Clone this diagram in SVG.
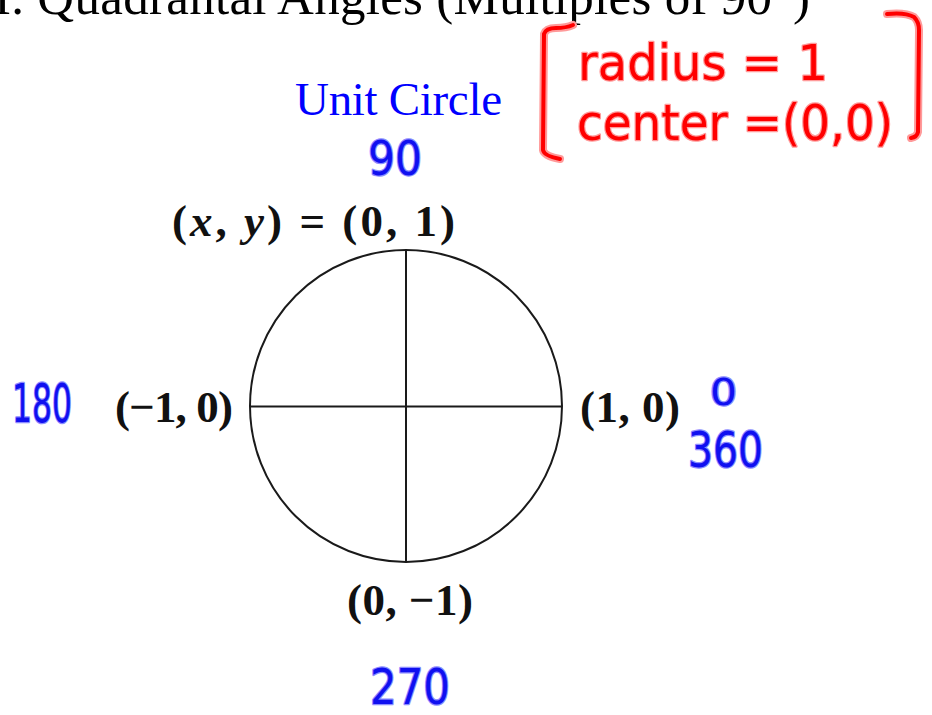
<svg xmlns="http://www.w3.org/2000/svg" width="932" height="715" viewBox="0 0 932 715">
  <style>
    .title { font-family: "Liberation Serif", "Times New Roman", serif; font-size: 51px; fill: #000; }
    .unit { font-family: "Liberation Serif", "Times New Roman", serif; font-size: 47px; fill: #0000ff; }
    .pt { font-family: "Liberation Serif", "Times New Roman", serif; font-size: 45px; font-weight: bold; fill: #111; }
    .it { font-style: italic; }
    .hwr { font-family: "DejaVu Sans", "Liberation Sans", sans-serif; fill: #ff0000; stroke: #ff9a9a; stroke-width: 2.5px; paint-order: stroke; stroke-linejoin: round; }
    .hwb { font-family: "DejaVu Sans", "Liberation Sans", sans-serif; fill: #1010f0; stroke: #8c8cff; stroke-width: 2.5px; paint-order: stroke; stroke-linejoin: round; }
    .bracket-halo { fill: none; stroke: #ff9a9a; stroke-width: 8; stroke-linecap: round; stroke-linejoin: round; }
    .bracket { fill: none; stroke: #ff0000; stroke-width: 4; stroke-linecap: round; stroke-linejoin: round; }
    .axis { stroke: #1a1a1a; stroke-width: 2; fill: none; }
  </style>
  <rect width="932" height="715" fill="#ffffff"/>

  <g id="title">
    <text class="title" x="-6" y="14" textLength="816" lengthAdjust="spacing">I. Quadrantal Angles (Multiples of 90°)</text>
  </g>

  <g id="unit-circle-title">
    <text class="unit" x="295" y="115" textLength="207" lengthAdjust="spacing">Unit Circle</text>
  </g>

  <g id="note">
    <path class="bracket-halo" d="M573,25 Q566,28 556,28 Q546,28 544,34 L543,150 Q544,156 560,159"/>
    <path class="bracket" d="M573,25 Q566,28 556,28 Q546,28 544,34 L543,150 Q544,156 560,159"/>
    <path class="bracket-halo" d="M887,14 Q905,12 914,17 Q919,22 919,30 L918,132 Q917,137 911,138"/>
    <path class="bracket" d="M887,14 Q905,12 914,17 Q919,22 919,30 L918,132 Q917,137 911,138"/>
    <text class="hwr" x="578" y="80" font-size="50" textLength="250" lengthAdjust="spacingAndGlyphs">radius = 1</text>
    <text class="hwr" x="577" y="140" font-size="50" textLength="316" lengthAdjust="spacingAndGlyphs">center =(0,0)</text>
  </g>

  <g id="circle">
    <circle cx="406" cy="406" r="156" class="axis"/>
  </g>

  <g id="connectors">
    <line class="axis" x1="406" y1="250" x2="406" y2="562"/>
    <line class="axis" x1="250" y1="406.5" x2="562" y2="406.5"/>
  </g>

  <g id="label-top">
    <text class="pt" x="172" y="236" textLength="283" lengthAdjust="spacing">(<tspan class="it">x</tspan>, <tspan class="it">y</tspan>) = (0, 1)</text>
  </g>
  <g id="label-left">
    <text class="pt" x="115" y="422" textLength="118" lengthAdjust="spacing">(−1, 0)</text>
  </g>
  <g id="label-right">
    <text class="pt" x="580" y="422" textLength="100" lengthAdjust="spacing">(1, 0)</text>
  </g>
  <g id="label-bottom">
    <text class="pt" x="347" y="615" textLength="126" lengthAdjust="spacing">(0, −1)</text>
  </g>

  <g id="angle-90">
    <text class="hwb" x="368" y="175" font-size="48" textLength="54" lengthAdjust="spacingAndGlyphs">90</text>
  </g>
  <g id="angle-180">
    <text class="hwb" x="12" y="422" font-size="53" textLength="60" lengthAdjust="spacingAndGlyphs">180</text>
  </g>
  <g id="angle-0">
    <text class="hwb" x="710" y="405" font-size="37" textLength="27" lengthAdjust="spacingAndGlyphs">0</text>
  </g>
  <g id="angle-360">
    <text class="hwb" x="688" y="467" font-size="50" textLength="75" lengthAdjust="spacingAndGlyphs">360</text>
  </g>
  <g id="angle-270">
    <text class="hwb" x="370" y="704" font-size="50" textLength="80" lengthAdjust="spacingAndGlyphs">270</text>
  </g>
</svg>
